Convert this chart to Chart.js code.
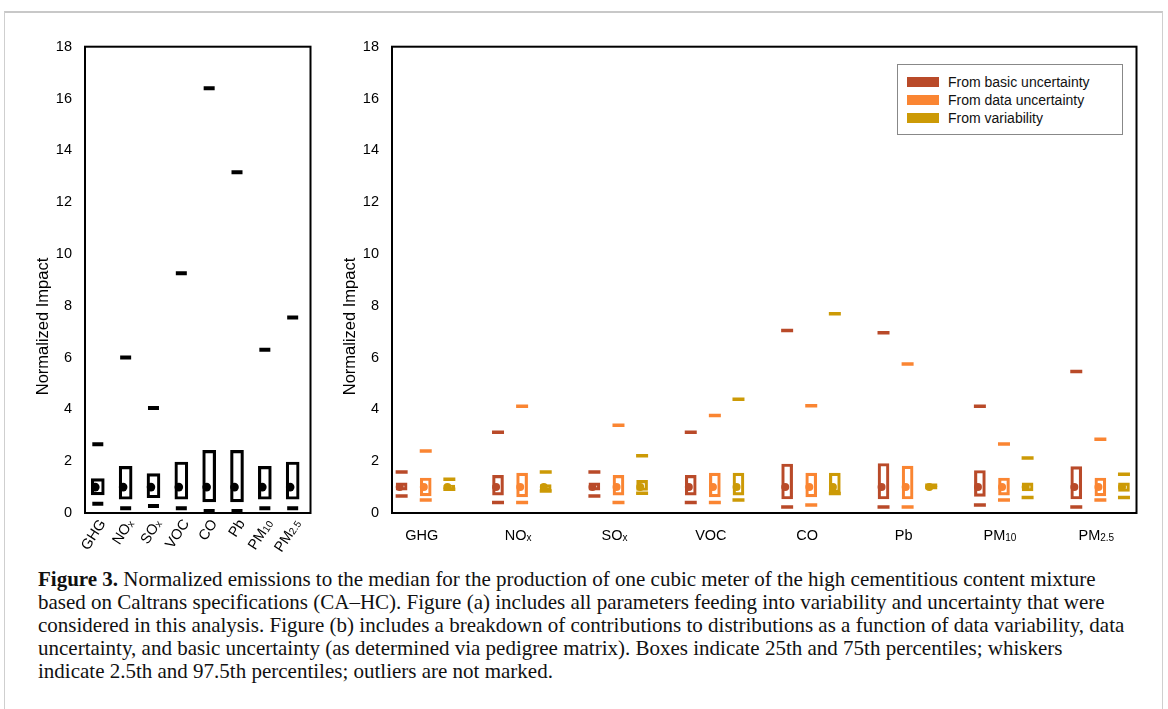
<!DOCTYPE html>
<html>
<head>
<meta charset="utf-8">
<script src="https://cdn.jsdelivr.net/npm/chart.js@4.4.1/dist/chart.umd.min.js"></script>
<style>
  body { margin: 0; background: #fff; width: 1168px; height: 709px; overflow: hidden; position: relative;
         font-family: "Liberation Sans", Arial, sans-serif; }
  #frame { position: absolute; left: 4px; top: 11px; width: 1157px; height: 720px;
           border: 1px solid #cfcfcf; border-top: 2px solid #c8c8c8; }
  #wrapA { position: absolute; left: 30px; top: 25px; width: 290px; height: 538px; }
  #wrapB { position: absolute; left: 337px; top: 25px; width: 809px; height: 538px; }
  #legend { position: absolute; left: 897px; top: 64px; width: 224px; height: 69px;
            border: 1px solid #888; background: #fff; }
  #legend .row { position: absolute; left: 0; height: 18px; font-size: 14px; line-height: 18px; color: #111; }
  #legend .sw { position: absolute; left: 9px; top: 4px; width: 32px; height: 10px; }
  #legend .tx { position: absolute; left: 50px; top: 0; white-space: nowrap; }
  #caption { position: absolute; left: 38px; top: 568px; font-family: "Liberation Serif", serif;
             font-size: 21px; line-height: 23px; color: #111; white-space: nowrap; }
</style>
</head>
<body>
<div id="frame"></div>
<div id="wrapA"><canvas id="chartA"></canvas></div>
<div id="wrapB"><canvas id="chartB"></canvas></div>
<div id="legend"></div>
<div id="caption"><b>Figure 3.</b> Normalized emissions to the median for the production of one cubic meter of the high cementitious content mixture<br>based on Caltrans specifications (CA–HC). Figure (a) includes all parameters feeding into variability and uncertainty that were<br>considered in this analysis. Figure (b) includes a breakdown of contributions to distributions as a function of data variability, data<br>uncertainty, and basic uncertainty (as determined via pedigree matrix). Boxes indicate 25th and 75th percentiles; whiskers<br>indicate 2.5th and 97.5th percentiles; outliers are not marked.</div>

<script>
// categories, label text split into main part and subscript
const categories = ['GHG', 'NOx', 'SOx', 'VOC', 'CO', 'Pb', 'PM10', 'PM2.5'];
const labelMain = ['GHG', 'NO', 'SO', 'VOC', 'CO', 'Pb', 'PM', 'PM'];
const labelSub = ['', 'x', 'x', '', '', '', '10', '2.5'];
const yTicks = [0, 2, 4, 6, 8, 10, 12, 14, 16, 18];
const yTitle = 'Normalized Impact';

// (a) all parameters combined
const totalLow = [0.36, 0.18, 0.27, 0.18, 0.08, 0.08, 0.18, 0.18];
const totalQ1 = [0.70, 0.53, 0.59, 0.53, 0.43, 0.43, 0.53, 0.53];
const totalMed = [1.0, 1.0, 1.0, 1.0, 1.0, 1.0, 1.0, 1.0];
const totalQ3 = [1.33, 1.80, 1.52, 1.97, 2.42, 2.42, 1.80, 1.97];
const totalHigh = [2.65, 6.0, 4.05, 9.25, 16.4, 13.15, 6.3, 7.55];

// (b) breakdown by source
const seriesNames = ['From basic uncertainty', 'From data uncertainty', 'From variability'];
const seriesColors = ['#B94A29', '#FA8532', '#CC9A06'];

const basicLow = [0.66, 0.41, 0.66, 0.41, 0.23, 0.23, 0.31, 0.23];
const basicQ1 = [0.88, 0.69, 0.88, 0.69, 0.54, 0.54, 0.64, 0.54];
const basicMed = [1.0, 1.0, 1.0, 1.0, 1.0, 1.0, 1.0, 1.0];
const basicQ3 = [1.16, 1.45, 1.16, 1.45, 1.89, 1.91, 1.64, 1.79];
const basicHigh = [1.58, 3.12, 1.58, 3.12, 7.04, 6.96, 4.12, 5.46];

const dataLow = [0.50, 0.41, 0.41, 0.41, 0.31, 0.23, 0.50, 0.50];
const dataQ1 = [0.66, 0.62, 0.69, 0.62, 0.62, 0.54, 0.69, 0.66];
const dataMed = [1.0, 1.0, 1.0, 1.0, 1.0, 1.0, 1.0, 1.0];
const dataQ3 = [1.35, 1.54, 1.45, 1.54, 1.54, 1.81, 1.35, 1.35];
const dataHigh = [2.39, 4.12, 3.39, 3.76, 4.14, 5.75, 2.66, 2.85];

const varLow = [0.92, 0.85, 0.76, 0.50, 0.75, 0.98, 0.60, 0.60];
const varQ1 = [0.93, 0.87, 0.87, 0.69, 0.79, 0.98, 0.85, 0.83];
const varMed = [1.0, 1.0, 1.0, 1.0, 1.0, 1.0, 1.0, 1.0];
const varQ3 = [1.08, 1.10, 1.26, 1.54, 1.54, 1.05, 1.16, 1.16];
const varHigh = [1.30, 1.58, 2.21, 4.39, 7.69, 1.07, 2.12, 1.50];

const FONT = '"Liberation Sans", Arial, sans-serif';

// legend as html
const legendEl = document.getElementById('legend');
seriesNames.forEach((name, i) => {
    const row = document.createElement('div');
    row.className = 'row';
    row.style.top = (8 + i * 18) + 'px';
    row.innerHTML = '<span class="sw" style="background:' + seriesColors[i] + '"></span><span class="tx">' + name + '</span>';
    legendEl.appendChild(row);
});

// frame around plot area + y title (sits a bit below the middle in the original)
const framePlugin = {
    id: 'frame',
    afterDatasetsDraw(chart) {
        const a = chart.chartArea, ctx = chart.ctx;
        ctx.save();
        ctx.strokeStyle = '#000';
        ctx.lineWidth = 2;
        ctx.strokeRect(a.left, a.top, a.right - a.left, a.bottom - a.top);
        ctx.translate(a.left - 42, a.top + (a.bottom - a.top) * 0.6);
        ctx.rotate(-Math.PI / 2);
        ctx.fillStyle = '#000';
        ctx.font = '16.5px ' + FONT;
        ctx.textAlign = 'center';
        ctx.textBaseline = 'middle';
        ctx.fillText(yTitle, 0, 0);
        ctx.restore();
    }
};

// category labels with small subscripts
function catLabels(rotated, shift) {
    return {
        id: 'catLabels',
        afterDraw(chart) {
            const ctx = chart.ctx, xs = chart.scales.x, bottom = chart.chartArea.bottom;
            ctx.save();
            ctx.fillStyle = '#000';
            categories.forEach((c, i) => {
                const x = xs.getPixelForValue(i + 1) + shift;
                ctx.font = '14.5px ' + FONT;
                const w1 = ctx.measureText(labelMain[i]).width;
                ctx.font = '10px ' + FONT;
                const w2 = ctx.measureText(labelSub[i]).width;
                if (rotated) {
                    ctx.save();
                    ctx.translate(x + 5, bottom + 8);
                    ctx.rotate(-57 * Math.PI / 180);
                    ctx.textBaseline = 'middle';
                    ctx.textAlign = 'left';
                    ctx.font = '14.5px ' + FONT;
                    ctx.fillText(labelMain[i], -(w1 + w2), 0);
                    ctx.font = '10px ' + FONT;
                    ctx.fillText(labelSub[i], -w2, 2);
                    ctx.restore();
                } else {
                    const y = bottom + 27;
                    ctx.textBaseline = 'alphabetic';
                    ctx.textAlign = 'left';
                    const x0 = x - (w1 + w2) / 2;
                    ctx.font = '14.5px ' + FONT;
                    ctx.fillText(labelMain[i], x0, y);
                    ctx.font = '10px ' + FONT;
                    ctx.fillText(labelSub[i], x0 + w1, y + 1);
                }
            });
            ctx.restore();
        }
    };
}

function boxSet(xs, q1, q3, color, thick, bw) {
    return {
        type: 'bar',
        data: q1.map((v, i) => ({ x: xs[i], y: [v, q3[i]] })),
        backgroundColor: 'rgba(0,0,0,0)',
        borderColor: color,
        borderWidth: bw,
        borderSkipped: false,
        barThickness: thick,
        grouped: false,
        order: 2
    };
}

function whiskerSet(xs, low, high, color, half, lw) {
    const pts = [];
    low.forEach((v, i) => { pts.push({ x: xs[i], y: v }); pts.push({ x: xs[i], y: high[i] }); });
    return {
        type: 'scatter',
        data: pts,
        pointStyle: 'line',
        pointRadius: half,
        pointBorderWidth: lw,
        pointBorderColor: color,
        pointBackgroundColor: color,
        order: 1
    };
}

function medianSet(xs, med, color, r) {
    return {
        type: 'scatter',
        data: med.map((v, i) => ({ x: xs[i], y: v })),
        pointStyle: 'circle',
        pointRadius: r,
        pointBorderWidth: 0,
        pointBackgroundColor: color,
        order: 0
    };
}

function baseOptions(xMin, xMax) {
    return {
        responsive: true,
        maintainAspectRatio: false,
        animation: false,
        events: [],
        layout: { padding: { top: 10, right: 7, left: 0, bottom: 0 } },
        plugins: { legend: { display: false }, tooltip: { enabled: false } },
        scales: {
            x: {
                type: 'linear', min: xMin, max: xMax, offset: false,
                grid: { display: false, drawTicks: false },
                border: { display: false },
                ticks: { display: false },
                afterFit: (s) => { s.height = 50; }
            },
            y: {
                min: 0, max: 18,
                afterBuildTicks: (s) => { s.ticks = yTicks.map(v => ({ value: v })); },
                grid: { display: false, drawTicks: false },
                border: { display: false },
                ticks: { color: '#000', padding: 13, font: { family: FONT, size: 14.5 } },
                afterFit: (s) => { s.width = 55; }
            }
        }
    };
}

// (a)
const posA = [1, 2, 3, 4, 5, 6, 7, 8];
const dotA = [0.91, 1.91, 2.91, 3.91, 4.91, 5.91, 6.91, 7.91];
new Chart(document.getElementById('chartA'), {
    type: 'bar',
    data: {
        datasets: [
            boxSet(posA, totalQ1, totalQ3, '#000', 13, 2.5),
            whiskerSet(posA, totalLow, totalHigh, '#000', 5.5, 4),
            medianSet(dotA, totalMed, '#000', 4.3)
        ]
    },
    options: baseOptions(0.54, 8.64),
    plugins: [framePlugin, catLabels(true, 0)]
});

// (b)
const posBasic = [0.75, 1.75, 2.75, 3.75, 4.75, 5.75, 6.75, 7.75];
const posData = [1, 2, 3, 4, 5, 6, 7, 8];
const posVar = [1.245, 2.245, 3.245, 4.245, 5.245, 6.245, 7.245, 8.245];
const dotBasic = [0.73, 1.73, 2.73, 3.73, 4.73, 5.73, 6.73, 7.73];
const dotData = [0.98, 1.98, 2.98, 3.98, 4.98, 5.98, 6.98, 7.98];
const dotVar = [1.225, 2.225, 3.225, 4.225, 5.225, 6.225, 7.225, 8.225];
new Chart(document.getElementById('chartB'), {
    type: 'bar',
    data: {
        datasets: [
            boxSet(posBasic, basicQ1, basicQ3, seriesColors[0], 11, 2.5),
            boxSet(posData, dataQ1, dataQ3, seriesColors[1], 11, 2.5),
            boxSet(posVar, varQ1, varQ3, seriesColors[2], 11, 2.5),
            whiskerSet(posBasic, basicLow, basicHigh, seriesColors[0], 6, 3.5),
            whiskerSet(posData, dataLow, dataHigh, seriesColors[1], 6, 3.5),
            whiskerSet(posVar, varLow, varHigh, seriesColors[2], 6, 3.5),
            medianSet(dotBasic, basicMed, seriesColors[0], 4),
            medianSet(dotData, dataMed, seriesColors[1], 4),
            medianSet(dotVar, varMed, seriesColors[2], 4)
        ]
    },
    options: baseOptions(0.65, 8.375),
    plugins: [framePlugin, catLabels(false, -4)]
});
</script>
</body>
</html>
